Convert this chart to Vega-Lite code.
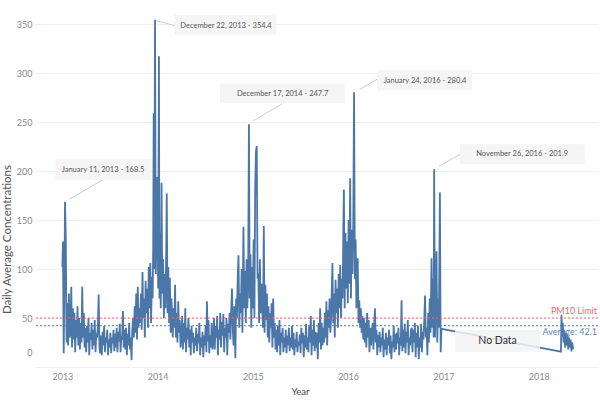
{
"$schema":"https://vega.github.io/schema/vega-lite/v6.json",
"width":563,"height":357,
"autosize":{"type":"none"},
"padding":{"left":35,"top":10,"right":2,"bottom":33},
"background":"white",
"config":{"font":"Lato","view":{"stroke":null}},
"datasets":{
"pm":[
{"date":"2013-01-01","value":102},{"date":"2013-01-03","value":128},{"date":"2013-01-06","value":14},{"date":"2013-01-08","value":60},{"date":"2013-01-11","value":168.5},{"date":"2013-01-14","value":133},{"date":"2013-01-17","value":25},{"date":"2013-01-20","value":65},{"date":"2013-01-23","value":22},{"date":"2013-01-26","value":75},{"date":"2013-01-29","value":30},
{"date":"2013-02-01","value":35},{"date":"2013-02-04","value":82},{"date":"2013-02-07","value":20},{"date":"2013-02-10","value":60},{"date":"2013-02-13","value":28},{"date":"2013-02-16","value":55},{"date":"2013-02-19","value":15},{"date":"2013-02-22","value":48},{"date":"2013-02-25","value":30},{"date":"2013-02-28","value":62},
{"date":"2013-03-03","value":22},{"date":"2013-03-06","value":50},{"date":"2013-03-09","value":18},{"date":"2013-03-12","value":45},{"date":"2013-03-15","value":25},{"date":"2013-03-18","value":82},{"date":"2013-03-21","value":30},{"date":"2013-03-24","value":55},{"date":"2013-03-27","value":20},{"date":"2013-03-30","value":40},
{"date":"2013-04-02","value":15},{"date":"2013-04-05","value":42},{"date":"2013-04-08","value":25},{"date":"2013-04-11","value":50},{"date":"2013-04-14","value":12},{"date":"2013-04-17","value":35},{"date":"2013-04-20","value":28},{"date":"2013-04-23","value":45},{"date":"2013-04-26","value":18},{"date":"2013-04-29","value":38},
{"date":"2013-05-02","value":22},{"date":"2013-05-05","value":48},{"date":"2013-05-08","value":15},{"date":"2013-05-11","value":35},{"date":"2013-05-14","value":30},{"date":"2013-05-17","value":42},{"date":"2013-05-20","value":74},{"date":"2013-05-23","value":20},{"date":"2013-05-26","value":14},{"date":"2013-05-29","value":32},
{"date":"2013-06-01","value":12},{"date":"2013-06-04","value":36},{"date":"2013-06-07","value":22},{"date":"2013-06-10","value":42},{"date":"2013-06-13","value":15},{"date":"2013-06-16","value":30},{"date":"2013-06-19","value":25},{"date":"2013-06-22","value":38},{"date":"2013-06-25","value":12},{"date":"2013-06-28","value":28},
{"date":"2013-07-01","value":20},{"date":"2013-07-04","value":35},{"date":"2013-07-07","value":14},{"date":"2013-07-10","value":30},{"date":"2013-07-13","value":24},{"date":"2013-07-16","value":38},{"date":"2013-07-19","value":16},{"date":"2013-07-22","value":34},{"date":"2013-07-25","value":20},{"date":"2013-07-28","value":40},{"date":"2013-07-31","value":15},
{"date":"2013-08-03","value":36},{"date":"2013-08-06","value":26},{"date":"2013-08-09","value":44},{"date":"2013-08-12","value":15},{"date":"2013-08-15","value":32},{"date":"2013-08-18","value":28},{"date":"2013-08-21","value":57},{"date":"2013-08-24","value":20},{"date":"2013-08-27","value":38},{"date":"2013-08-30","value":18},
{"date":"2013-09-02","value":40},{"date":"2013-09-05","value":12},{"date":"2013-09-08","value":34},{"date":"2013-09-11","value":22},{"date":"2013-09-14","value":45},{"date":"2013-09-17","value":18},{"date":"2013-09-20","value":30},{"date":"2013-09-23","value":7},{"date":"2013-09-26","value":38},{"date":"2013-09-29","value":50},
{"date":"2013-10-02","value":30},{"date":"2013-10-05","value":62},{"date":"2013-10-08","value":35},{"date":"2013-10-11","value":75},{"date":"2013-10-14","value":28},{"date":"2013-10-17","value":82},{"date":"2013-10-20","value":40},{"date":"2013-10-23","value":60},{"date":"2013-10-26","value":45},{"date":"2013-10-29","value":75},
{"date":"2013-11-01","value":38},{"date":"2013-11-04","value":97},{"date":"2013-11-07","value":50},{"date":"2013-11-10","value":70},{"date":"2013-11-13","value":30},{"date":"2013-11-16","value":88},{"date":"2013-11-19","value":55},{"date":"2013-11-22","value":80},{"date":"2013-11-25","value":40},{"date":"2013-11-28","value":102},
{"date":"2013-12-01","value":60},{"date":"2013-12-04","value":106},{"date":"2013-12-07","value":45},{"date":"2013-12-10","value":92},{"date":"2013-12-13","value":70},{"date":"2013-12-15","value":120},{"date":"2013-12-17","value":259},{"date":"2013-12-19","value":100},{"date":"2013-12-22","value":354.4},{"date":"2013-12-25","value":95},{"date":"2013-12-28","value":140},{"date":"2013-12-31","value":194},
{"date":"2014-01-03","value":80},{"date":"2014-01-06","value":317},{"date":"2014-01-08","value":70},{"date":"2014-01-10","value":137},{"date":"2014-01-13","value":60},{"date":"2014-01-16","value":188},{"date":"2014-01-19","value":75},{"date":"2014-01-22","value":110},{"date":"2014-01-25","value":50},{"date":"2014-01-28","value":95},{"date":"2014-01-31","value":60},
{"date":"2014-02-03","value":120},{"date":"2014-02-05","value":177},{"date":"2014-02-08","value":55},{"date":"2014-02-11","value":102},{"date":"2014-02-14","value":45},{"date":"2014-02-17","value":91},{"date":"2014-02-20","value":35},{"date":"2014-02-23","value":70},{"date":"2014-02-26","value":50},{"date":"2014-02-28","value":30},
{"date":"2014-03-03","value":60},{"date":"2014-03-06","value":40},{"date":"2014-03-09","value":84},{"date":"2014-03-12","value":30},{"date":"2014-03-15","value":55},{"date":"2014-03-18","value":25},{"date":"2014-03-21","value":67},{"date":"2014-03-24","value":35},{"date":"2014-03-27","value":48},{"date":"2014-03-30","value":20},
{"date":"2014-04-02","value":30},{"date":"2014-04-05","value":52},{"date":"2014-04-08","value":18},{"date":"2014-04-11","value":45},{"date":"2014-04-14","value":25},{"date":"2014-04-17","value":60},{"date":"2014-04-20","value":15},{"date":"2014-04-23","value":40},{"date":"2014-04-26","value":28},{"date":"2014-04-29","value":50},
{"date":"2014-05-02","value":20},{"date":"2014-05-05","value":38},{"date":"2014-05-08","value":12},{"date":"2014-05-11","value":42},{"date":"2014-05-14","value":25},{"date":"2014-05-17","value":35},{"date":"2014-05-20","value":14},{"date":"2014-05-23","value":30},{"date":"2014-05-26","value":22},{"date":"2014-05-29","value":40},
{"date":"2014-06-01","value":16},{"date":"2014-06-04","value":34},{"date":"2014-06-07","value":24},{"date":"2014-06-10","value":45},{"date":"2014-06-13","value":12},{"date":"2014-06-16","value":30},{"date":"2014-06-19","value":20},{"date":"2014-06-22","value":36},{"date":"2014-06-25","value":10},{"date":"2014-06-28","value":32},
{"date":"2014-07-01","value":22},{"date":"2014-07-04","value":42},{"date":"2014-07-07","value":15},{"date":"2014-07-09","value":67},{"date":"2014-07-12","value":26},{"date":"2014-07-15","value":48},{"date":"2014-07-18","value":14},{"date":"2014-07-21","value":32},{"date":"2014-07-24","value":20},{"date":"2014-07-27","value":45},{"date":"2014-07-30","value":18},
{"date":"2014-08-02","value":25},{"date":"2014-08-05","value":50},{"date":"2014-08-08","value":18},{"date":"2014-08-11","value":42},{"date":"2014-08-14","value":30},{"date":"2014-08-17","value":52},{"date":"2014-08-20","value":12},{"date":"2014-08-23","value":38},{"date":"2014-08-26","value":28},{"date":"2014-08-29","value":55},
{"date":"2014-09-01","value":20},{"date":"2014-09-04","value":46},{"date":"2014-09-07","value":32},{"date":"2014-09-10","value":54},{"date":"2014-09-13","value":15},{"date":"2014-09-16","value":40},{"date":"2014-09-19","value":30},{"date":"2014-09-22","value":50},{"date":"2014-09-25","value":12},{"date":"2014-09-28","value":44},
{"date":"2014-10-01","value":35},{"date":"2014-10-04","value":55},{"date":"2014-10-07","value":28},{"date":"2014-10-10","value":58},{"date":"2014-10-13","value":80},{"date":"2014-10-16","value":40},{"date":"2014-10-19","value":22},{"date":"2014-10-22","value":62},{"date":"2014-10-26","value":9},{"date":"2014-10-29","value":70},
{"date":"2014-11-01","value":50},{"date":"2014-11-04","value":90},{"date":"2014-11-07","value":114},{"date":"2014-11-10","value":40},{"date":"2014-11-13","value":75},{"date":"2014-11-16","value":55},{"date":"2014-11-19","value":100},{"date":"2014-11-22","value":35},{"date":"2014-11-26","value":143},{"date":"2014-11-29","value":60},
{"date":"2014-12-02","value":98},{"date":"2014-12-05","value":45},{"date":"2014-12-08","value":110},{"date":"2014-12-11","value":60},{"date":"2014-12-14","value":90},{"date":"2014-12-17","value":247.7},{"date":"2014-12-20","value":70},{"date":"2014-12-23","value":115},{"date":"2014-12-26","value":40},{"date":"2014-12-29","value":102},
{"date":"2015-01-01","value":60},{"date":"2015-01-04","value":130},{"date":"2015-01-07","value":50},{"date":"2015-01-10","value":183},{"date":"2015-01-13","value":220},{"date":"2015-01-16","value":225.5},{"date":"2015-01-19","value":90},{"date":"2015-01-22","value":96},{"date":"2015-01-25","value":45},{"date":"2015-01-28","value":110},{"date":"2015-01-31","value":55},
{"date":"2015-02-03","value":85},{"date":"2015-02-06","value":60},{"date":"2015-02-09","value":40},{"date":"2015-02-12","value":144},{"date":"2015-02-15","value":35},{"date":"2015-02-18","value":84},{"date":"2015-02-21","value":48},{"date":"2015-02-24","value":75},{"date":"2015-02-27","value":30},
{"date":"2015-03-02","value":62},{"date":"2015-03-05","value":25},{"date":"2015-03-08","value":55},{"date":"2015-03-11","value":40},{"date":"2015-03-14","value":65},{"date":"2015-03-17","value":20},{"date":"2015-03-20","value":70},{"date":"2015-03-23","value":30},{"date":"2015-03-26","value":45},{"date":"2015-03-29","value":18},
{"date":"2015-04-01","value":38},{"date":"2015-04-04","value":15},{"date":"2015-04-07","value":42},{"date":"2015-04-10","value":22},{"date":"2015-04-13","value":48},{"date":"2015-04-16","value":12},{"date":"2015-04-19","value":35},{"date":"2015-04-22","value":25},{"date":"2015-04-25","value":40},{"date":"2015-04-28","value":15},
{"date":"2015-05-01","value":30},{"date":"2015-05-04","value":20},{"date":"2015-05-07","value":38},{"date":"2015-05-10","value":14},{"date":"2015-05-13","value":32},{"date":"2015-05-16","value":22},{"date":"2015-05-19","value":40},{"date":"2015-05-22","value":16},{"date":"2015-05-25","value":30},{"date":"2015-05-28","value":20},{"date":"2015-05-31","value":42},
{"date":"2015-06-03","value":18},{"date":"2015-06-06","value":35},{"date":"2015-06-09","value":12},{"date":"2015-06-12","value":28},{"date":"2015-06-15","value":20},{"date":"2015-06-18","value":36},{"date":"2015-06-21","value":15},{"date":"2015-06-24","value":26},{"date":"2015-06-27","value":22},{"date":"2015-06-30","value":33},
{"date":"2015-07-03","value":14},{"date":"2015-07-06","value":40},{"date":"2015-07-09","value":24},{"date":"2015-07-12","value":35},{"date":"2015-07-15","value":10},{"date":"2015-07-18","value":32},{"date":"2015-07-21","value":20},{"date":"2015-07-24","value":44},{"date":"2015-07-27","value":18},{"date":"2015-07-30","value":30},
{"date":"2015-08-02","value":15},{"date":"2015-08-05","value":42},{"date":"2015-08-08","value":25},{"date":"2015-08-11","value":52},{"date":"2015-08-14","value":12},{"date":"2015-08-17","value":38},{"date":"2015-08-20","value":22},{"date":"2015-08-23","value":48},{"date":"2015-08-26","value":16},{"date":"2015-08-29","value":36},
{"date":"2015-09-01","value":20},{"date":"2015-09-04","value":35},{"date":"2015-09-07","value":8},{"date":"2015-09-10","value":45},{"date":"2015-09-13","value":25},{"date":"2015-09-16","value":60},{"date":"2015-09-19","value":18},{"date":"2015-09-22","value":45},{"date":"2015-09-25","value":22},{"date":"2015-09-28","value":40},
{"date":"2015-10-01","value":25},{"date":"2015-10-04","value":55},{"date":"2015-10-07","value":30},{"date":"2015-10-10","value":67},{"date":"2015-10-13","value":22},{"date":"2015-10-16","value":58},{"date":"2015-10-19","value":40},{"date":"2015-10-22","value":70},{"date":"2015-10-25","value":35},{"date":"2015-10-28","value":50},
{"date":"2015-11-02","value":106},{"date":"2015-11-05","value":45},{"date":"2015-11-08","value":75},{"date":"2015-11-11","value":30},{"date":"2015-11-14","value":89},{"date":"2015-11-17","value":55},{"date":"2015-11-20","value":80},{"date":"2015-11-23","value":40},{"date":"2015-11-26","value":95},{"date":"2015-11-29","value":60},
{"date":"2015-12-02","value":104},{"date":"2015-12-05","value":50},{"date":"2015-12-08","value":90},{"date":"2015-12-11","value":70},{"date":"2015-12-14","value":144},{"date":"2015-12-16","value":181},{"date":"2015-12-19","value":60},{"date":"2015-12-22","value":137},{"date":"2015-12-25","value":80},{"date":"2015-12-28","value":128},{"date":"2015-12-31","value":65},
{"date":"2016-01-03","value":150},{"date":"2016-01-06","value":85},{"date":"2016-01-09","value":192.5},{"date":"2016-01-12","value":70},{"date":"2016-01-15","value":140},{"date":"2016-01-18","value":95},{"date":"2016-01-21","value":150},{"date":"2016-01-24","value":280.4},{"date":"2016-01-27","value":90},{"date":"2016-01-30","value":130},
{"date":"2016-02-02","value":60},{"date":"2016-02-04","value":75},{"date":"2016-02-07","value":111},{"date":"2016-02-10","value":45},{"date":"2016-02-13","value":68},{"date":"2016-02-16","value":40},{"date":"2016-02-19","value":60},{"date":"2016-02-22","value":35},{"date":"2016-02-25","value":52},{"date":"2016-02-28","value":28},
{"date":"2016-03-02","value":50},{"date":"2016-03-05","value":25},{"date":"2016-03-08","value":45},{"date":"2016-03-11","value":20},{"date":"2016-03-14","value":55},{"date":"2016-03-17","value":30},{"date":"2016-03-20","value":48},{"date":"2016-03-23","value":15},{"date":"2016-03-26","value":40},{"date":"2016-03-29","value":22},
{"date":"2016-04-01","value":35},{"date":"2016-04-04","value":45},{"date":"2016-04-07","value":18},{"date":"2016-04-10","value":42},{"date":"2016-04-13","value":60},{"date":"2016-04-16","value":25},{"date":"2016-04-19","value":38},{"date":"2016-04-22","value":12},{"date":"2016-04-25","value":33},{"date":"2016-04-28","value":20},
{"date":"2016-05-01","value":36},{"date":"2016-05-04","value":15},{"date":"2016-05-07","value":30},{"date":"2016-05-10","value":22},{"date":"2016-05-13","value":40},{"date":"2016-05-16","value":10},{"date":"2016-05-19","value":28},{"date":"2016-05-22","value":18},{"date":"2016-05-25","value":35},{"date":"2016-05-28","value":12},{"date":"2016-05-31","value":30},
{"date":"2016-06-03","value":22},{"date":"2016-06-06","value":38},{"date":"2016-06-09","value":14},{"date":"2016-06-12","value":32},{"date":"2016-06-15","value":8},{"date":"2016-06-18","value":26},{"date":"2016-06-21","value":20},{"date":"2016-06-24","value":42},{"date":"2016-06-27","value":15},{"date":"2016-06-30","value":34},
{"date":"2016-07-03","value":18},{"date":"2016-07-06","value":35},{"date":"2016-07-09","value":24},{"date":"2016-07-12","value":40},{"date":"2016-07-15","value":12},{"date":"2016-07-18","value":30},{"date":"2016-07-21","value":22},{"date":"2016-07-24","value":68},{"date":"2016-07-27","value":16},{"date":"2016-07-30","value":38},
{"date":"2016-08-02","value":20},{"date":"2016-08-05","value":44},{"date":"2016-08-08","value":14},{"date":"2016-08-11","value":36},{"date":"2016-08-14","value":25},{"date":"2016-08-17","value":48},{"date":"2016-08-20","value":12},{"date":"2016-08-23","value":30},{"date":"2016-08-26","value":22},{"date":"2016-08-29","value":38},
{"date":"2016-09-01","value":40},{"date":"2016-09-04","value":15},{"date":"2016-09-07","value":38},{"date":"2016-09-10","value":25},{"date":"2016-09-13","value":45},{"date":"2016-09-16","value":10},{"date":"2016-09-19","value":35},{"date":"2016-09-22","value":20},{"date":"2016-09-25","value":42},{"date":"2016-09-28","value":8},
{"date":"2016-10-01","value":30},{"date":"2016-10-04","value":20},{"date":"2016-10-07","value":44},{"date":"2016-10-10","value":15},{"date":"2016-10-13","value":36},{"date":"2016-10-16","value":28},{"date":"2016-10-19","value":48},{"date":"2016-10-22","value":73},{"date":"2016-10-25","value":30},{"date":"2016-10-28","value":40},{"date":"2016-10-31","value":12},
{"date":"2016-11-03","value":55},{"date":"2016-11-06","value":25},{"date":"2016-11-09","value":70},{"date":"2016-11-12","value":35},{"date":"2016-11-16","value":111},{"date":"2016-11-19","value":40},{"date":"2016-11-22","value":90},{"date":"2016-11-24","value":30},{"date":"2016-11-26","value":201.9},{"date":"2016-11-29","value":30},
{"date":"2016-12-02","value":60},{"date":"2016-12-05","value":118},{"date":"2016-12-08","value":25},{"date":"2016-12-11","value":70},{"date":"2016-12-14","value":40},{"date":"2016-12-18","value":178},{"date":"2016-12-21","value":15},{"date":"2016-12-24","value":39},
{"date":"2018-03-27","value":15.6},{"date":"2018-03-29","value":53},{"date":"2018-04-01","value":31},{"date":"2018-04-03","value":45},{"date":"2018-04-06","value":25},{"date":"2018-04-09","value":38},{"date":"2018-04-12","value":20},{"date":"2018-04-15","value":35},{"date":"2018-04-18","value":22},{"date":"2018-04-21","value":33},{"date":"2018-04-24","value":18},{"date":"2018-04-27","value":30},{"date":"2018-04-30","value":20},{"date":"2018-05-03","value":28},{"date":"2018-05-06","value":16},{"date":"2018-05-09","value":25},{"date":"2018-05-13","value":18}
],
"ann":[
{"id":1,"date":"2013-01-11","value":168.5,"label":"January 11, 2013 -  168.5"},
{"id":2,"date":"2013-12-22","value":354.4,"label":"December 22, 2013 -  354.4"},
{"id":3,"date":"2014-12-17","value":247.7,"label":"December 17, 2014 -  247.7"},
{"id":4,"date":"2016-01-24","value":280.4,"label":"January 24, 2016 -  280.4"},
{"id":5,"date":"2016-11-26","value":201.9,"label":"November 26, 2016 -  201.9"}
],
"refs":[
{"label":"PM10 Limit","value":50},
{"label":"Average: 42.1","value":42.1}
]
},
"layer":[
{"data":{"name":"pm"},
 "mark":{"type":"line","color":"#4a76a8","strokeWidth":1.8},
 "encoding":{
  "x":{"field":"date","type":"temporal",
   "scale":{"domain":[{"year":2012,"month":9,"date":18},{"year":2018,"month":8,"date":16}],"nice":false},
   "axis":{"title":"Year","format":"%Y","tickCount":{"interval":"year","step":1},"ticks":false,"domain":false,"grid":false,
     "labelColor":"#8a8a8a","labelFontSize":9,"labelPadding":5,"titleColor":"#444","titleFontSize":9.5,"titleFontWeight":"normal",
     "titleX":265,"titleY":24,"titleBaseline":"middle"}},
  "y":{"field":"value","type":"quantitative",
   "scale":{"domain":[0,364.3],"nice":false},
   "axis":{"title":"Daily Average Concentrations","values":[0,50,100,150,200,250,300,350],"ticks":false,"domain":false,"grid":true,"gridColor":"#efefef",
     "labelColor":"#8a8a8a","labelFontSize":9,"labelPadding":3,"labelFlush":true,"labelFlushOffset":-10,
     "titleColor":"#555","titleFontSize":11.5,"titleFontWeight":"normal","titleX":-28,"titleY":229,"titleBaseline":"middle","titleAlign":"center"}}
 }},
{"data":{"name":"refs"},
 "mark":{"type":"rule","strokeDash":[2,2],"strokeWidth":1},
 "encoding":{"y":{"field":"value","type":"quantitative"},
  "color":{"field":"label","type":"nominal","scale":{"domain":["PM10 Limit","Average: 42.1"],"range":["#e8686f","#5a78a8"]},"legend":null}}},
{"data":{"name":"refs"},"transform":[{"filter":"datum.value == 50"}],
 "mark":{"type":"text","align":"right","baseline":"bottom","dx":-1,"dy":-2,"fontSize":9,"color":"#e8686f"},
 "encoding":{"x":{"value":"width"},"y":{"field":"value","type":"quantitative"},"text":{"field":"label"}}},
{"data":{"name":"refs"},"transform":[{"filter":"datum.value != 50"}],
 "mark":{"type":"text","align":"right","baseline":"top","dx":-1,"dy":2,"fontSize":9,"color":"#5f86b8"},
 "encoding":{"x":{"value":"width"},"y":{"field":"value","type":"quantitative"},"text":{"field":"label"}}},
{"data":{"name":"ann"},"transform":[{"filter":"datum.id == 1"}],
 "encoding":{"x":{"field":"date","type":"temporal"},"y":{"field":"value","type":"quantitative"}},
 "layer":[
  {"mark":{"type":"point","shape":"M-9.7,-43H86.3V-22H-9.7Z","size":4,"filled":true,"color":"#f5f5f5","opacity":1,"strokeWidth":0}},
  {"mark":{"type":"point","shape":"M4.6,-2.7L37.6,-22","size":4,"filled":false,"color":"#cccccc","opacity":1,"strokeWidth":1}},
  {"mark":{"type":"text","dx":38,"dy":-32.3,"fontSize":7.5,"color":"#555555","align":"center","baseline":"middle"},"encoding":{"text":{"field":"label"}}}
 ]},
{"data":{"name":"ann"},"transform":[{"filter":"datum.id == 2"}],
 "encoding":{"x":{"field":"date","type":"temporal"},"y":{"field":"value","type":"quantitative"}},
 "layer":[
  {"mark":{"type":"point","shape":"M19.3,-5H121.3V15H19.3Z","size":4,"filled":true,"color":"#f5f5f5","opacity":1,"strokeWidth":0}},
  {"mark":{"type":"point","shape":"M1.6,1L19.3,6","size":4,"filled":false,"color":"#cccccc","opacity":1,"strokeWidth":1}},
  {"mark":{"type":"text","dx":71,"dy":6,"fontSize":7.5,"color":"#555555","align":"center","baseline":"middle"},"encoding":{"text":{"field":"label"}}}
 ]},
{"data":{"name":"ann"},"transform":[{"filter":"datum.id == 3"}],
 "encoding":{"x":{"field":"date","type":"temporal"},"y":{"field":"value","type":"quantitative"}},
 "layer":[
  {"mark":{"type":"point","shape":"M-29,-41H96V-21H-29Z","size":4,"filled":true,"color":"#f5f5f5","opacity":1,"strokeWidth":0}},
  {"mark":{"type":"point","shape":"M4.5,-3.5L32.7,-20","size":4,"filled":false,"color":"#cccccc","opacity":1,"strokeWidth":1}},
  {"mark":{"type":"text","dx":33.7,"dy":-30.3,"fontSize":7.5,"color":"#555555","align":"center","baseline":"middle"},"encoding":{"text":{"field":"label"}}}
 ]},
{"data":{"name":"ann"},"transform":[{"filter":"datum.id == 4"}],
 "encoding":{"x":{"field":"date","type":"temporal"},"y":{"field":"value","type":"quantitative"}},
 "layer":[
  {"mark":{"type":"point","shape":"M23,-22H118V-2H23Z","size":4,"filled":true,"color":"#f5f5f5","opacity":1,"strokeWidth":0}},
  {"mark":{"type":"point","shape":"M5.6,-2.7L23,-13","size":4,"filled":false,"color":"#cccccc","opacity":1,"strokeWidth":1}},
  {"mark":{"type":"text","dx":71,"dy":-11.7,"fontSize":7.5,"color":"#555555","align":"center","baseline":"middle"},"encoding":{"text":{"field":"label"}}}
 ]},
{"data":{"name":"ann"},"transform":[{"filter":"datum.id == 5"}],
 "encoding":{"x":{"field":"date","type":"temporal"},"y":{"field":"value","type":"quantitative"}},
 "layer":[
  {"mark":{"type":"point","shape":"M25.7,-25H150.7V-5H25.7Z","size":4,"filled":true,"color":"#f5f5f5","opacity":1,"strokeWidth":0}},
  {"mark":{"type":"point","shape":"M5,-3L25.7,-14.7","size":4,"filled":false,"color":"#cccccc","opacity":1,"strokeWidth":1}},
  {"mark":{"type":"text","dx":88,"dy":-14.7,"fontSize":7.5,"color":"#555555","align":"center","baseline":"middle"},"encoding":{"text":{"field":"label"}}}
 ]},
{"data":{"values":[{}]},
 "encoding":{"x":{"datum":{"year":2017,"month":7,"date":27},"type":"temporal"},"y":{"datum":26.5,"type":"quantitative"}},
 "layer":[
  {"mark":{"type":"point","shape":"M-42.5,-11H42.5V11H-42.5Z","size":4,"filled":true,"color":"#f3f3f3","opacity":0.85,"strokeWidth":0}},
  {"mark":{"type":"text","text":"No Data","fontSize":10.5,"color":"#333333","align":"center","baseline":"middle"}}
 ]}
]
}
